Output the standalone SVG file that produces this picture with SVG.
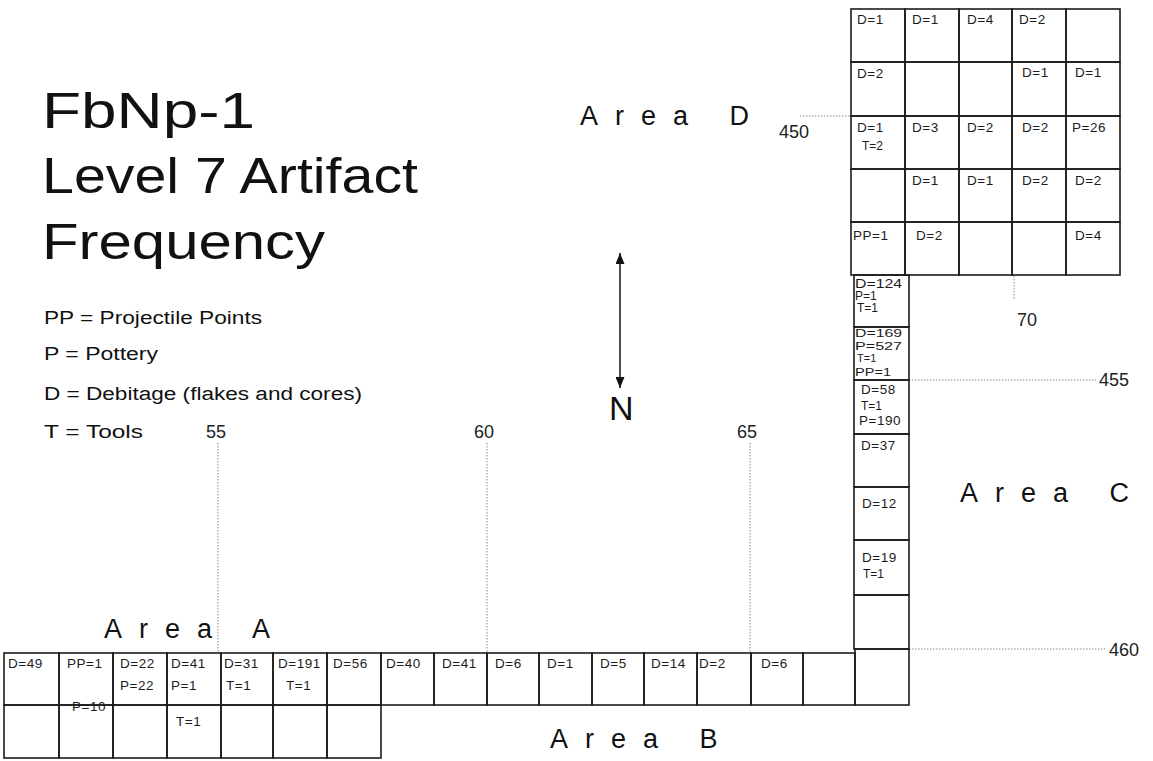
<svg xmlns="http://www.w3.org/2000/svg" width="1153" height="761" viewBox="0 0 1153 761">
<defs>
<style>
.c{fill:none;stroke:#1c1c1c;stroke-width:1.6}
.t{font-family:"Liberation Sans",Arial,sans-serif;font-size:13.5px;letter-spacing:0.5px;fill:#1c1c1c}
.k{font-family:"Liberation Sans",Arial,sans-serif;font-size:12px;fill:#1c1c1c}
.q{font-family:"Liberation Sans",Arial,sans-serif;font-size:11px;fill:#1c1c1c}
.dot{stroke:#8a8a8a;stroke-width:1;stroke-dasharray:1.5 1.5;fill:none}
.area{font-family:"Liberation Sans",Arial,sans-serif;font-size:27px;letter-spacing:17px;fill:#111}
.title{font-family:"Liberation Sans",Arial,sans-serif;font-size:50px;fill:#111}
.leg{font-family:"Liberation Sans",Arial,sans-serif;font-size:18px;fill:#111}
.num{font-family:"Liberation Sans",Arial,sans-serif;font-size:18px;fill:#222}
</style>
<marker id="ah" markerUnits="userSpaceOnUse" markerWidth="11" markerHeight="9" refX="11" refY="4.5" orient="auto-start-reverse" viewBox="0 0 11 9"><path d="M0,0 L11,4.5 L0,9 z" fill="#111"/></marker>
</defs>
<rect width="1153" height="761" fill="#fff"/>

<g id="title">
<text class="title" x="42" y="128" textLength="213" lengthAdjust="spacingAndGlyphs">FbNp-1</text>
<text class="title" x="42" y="193" textLength="376" lengthAdjust="spacingAndGlyphs">Level 7 Artifact</text>
<text class="title" x="42" y="259" textLength="283" lengthAdjust="spacingAndGlyphs">Frequency</text>
</g>

<g id="legend">
<text class="leg" x="44" y="324" textLength="218" lengthAdjust="spacingAndGlyphs">PP = Projectile Points</text>
<text class="leg" x="44" y="360" textLength="114" lengthAdjust="spacingAndGlyphs">P = Pottery</text>
<text class="leg" x="44" y="400" textLength="318" lengthAdjust="spacingAndGlyphs">D = Debitage (flakes and cores)</text>
<text class="leg" x="44" y="438" textLength="99" lengthAdjust="spacingAndGlyphs">T = Tools</text>
</g>

<g id="north">
<line x1="620" y1="253" x2="620" y2="388" stroke="#111" stroke-width="1.5" marker-start="url(#ah)" marker-end="url(#ah)"/>
<text x="609" y="420" font-family="Liberation Sans, Arial, sans-serif" font-size="34" fill="#111">N</text>
</g>

<g id="area-labels">
<text class="area" x="580" y="125">Area D</text>
<text class="area" x="104" y="638">Area A</text>
<text class="area" x="550" y="748">Area B</text>
<text class="area" x="960" y="502">Area C</text>
</g>

<g id="gridlines">
<line class="dot" x1="218" y1="443" x2="218" y2="652"/>
<line class="dot" x1="487" y1="443" x2="487" y2="652"/>
<line class="dot" x1="750" y1="443" x2="750" y2="652"/>
<line class="dot" x1="800" y1="116" x2="851" y2="116"/>
<line class="dot" x1="909" y1="380" x2="1096" y2="380"/>
<line class="dot" x1="909" y1="649" x2="1106" y2="649"/>
<line class="dot" x1="1014" y1="276" x2="1014" y2="300"/>
<text class="num" x="206" y="438">55</text>
<text class="num" x="474" y="438">60</text>
<text class="num" x="737" y="438">65</text>
<text class="num" x="779" y="138">450</text>
<text class="num" x="1017" y="326">70</text>
<text class="num" x="1099" y="386">455</text>
<text class="num" x="1109" y="656">460</text>
</g>

<g id="area-d">
<g id="d-r0"><rect class="c" x="851" y="9" width="54" height="53"/><rect class="c" x="905" y="9" width="54" height="53"/><rect class="c" x="959" y="9" width="53" height="53"/><rect class="c" x="1012" y="9" width="54" height="53"/><rect class="c" x="1066" y="9" width="54" height="53"/>
<text class="t" x="857" y="24">D=1</text><text class="t" x="912" y="24">D=1</text><text class="t" x="967" y="24">D=4</text><text class="t" x="1019" y="24">D=2</text></g>
<g id="d-r1"><rect class="c" x="851" y="62" width="54" height="54"/><rect class="c" x="905" y="62" width="54" height="54"/><rect class="c" x="959" y="62" width="53" height="54"/><rect class="c" x="1012" y="62" width="54" height="54"/><rect class="c" x="1066" y="62" width="54" height="54"/>
<text class="t" x="857" y="78">D=2</text><text class="t" x="1022" y="77">D=1</text><text class="t" x="1075" y="77">D=1</text></g>
<g id="d-r2"><rect class="c" x="851" y="116" width="54" height="53"/><rect class="c" x="905" y="116" width="54" height="53"/><rect class="c" x="959" y="116" width="53" height="53"/><rect class="c" x="1012" y="116" width="54" height="53"/><rect class="c" x="1066" y="116" width="54" height="53"/>
<text class="t" x="857" y="132">D=1</text><text class="k" x="862" y="150">T=2</text><text class="t" x="912" y="132">D=3</text><text class="t" x="967" y="132">D=2</text><text class="t" x="1022" y="132">D=2</text><text class="t" x="1072" y="132">P=26</text></g>
<g id="d-r3"><rect class="c" x="851" y="169" width="54" height="53"/><rect class="c" x="905" y="169" width="54" height="53"/><rect class="c" x="959" y="169" width="53" height="53"/><rect class="c" x="1012" y="169" width="54" height="53"/><rect class="c" x="1066" y="169" width="54" height="53"/>
<text class="t" x="912" y="185">D=1</text><text class="t" x="967" y="185">D=1</text><text class="t" x="1022" y="185">D=2</text><text class="t" x="1075" y="185">D=2</text></g>
<g id="d-r4"><rect class="c" x="851" y="222" width="54" height="53"/><rect class="c" x="905" y="222" width="54" height="53"/><rect class="c" x="959" y="222" width="53" height="53"/><rect class="c" x="1012" y="222" width="54" height="53"/><rect class="c" x="1066" y="222" width="54" height="53"/>
<text class="t" x="853" y="240">PP=1</text><text class="t" x="916" y="240">D=2</text><text class="t" x="1075" y="240">D=4</text></g>
</g>

<g id="area-c-column">
<g id="c1"><rect class="c" x="854" y="275" width="55" height="52"/><text class="k" x="855" y="288" textLength="47" lengthAdjust="spacingAndGlyphs">D=124</text><text class="k" x="855" y="300">P=1</text><text class="k" x="857" y="312">T=1</text></g>
<g id="c2"><rect class="c" x="854" y="327" width="55" height="53"/><text class="q" x="855" y="337" textLength="47" lengthAdjust="spacingAndGlyphs">D=169</text><text class="q" x="855" y="350" textLength="47" lengthAdjust="spacingAndGlyphs">P=527</text><text class="q" x="857" y="362">T=1</text><text class="q" x="855" y="376" textLength="36" lengthAdjust="spacingAndGlyphs">PP=1</text></g>
<g id="c3"><rect class="c" x="854" y="380" width="55" height="54"/><text class="t" x="861" y="394">D=58</text><text class="k" x="861" y="410">T=1</text><text class="t" x="859" y="425">P=190</text></g>
<g id="c4"><rect class="c" x="854" y="434" width="55" height="53"/><text class="t" x="861" y="450">D=37</text></g>
<g id="c5"><rect class="c" x="854" y="487" width="55" height="53"/><text class="t" x="862" y="508">D=12</text></g>
<g id="c6"><rect class="c" x="854" y="540" width="55" height="55"/><text class="t" x="862" y="562">D=19</text><text class="k" x="863" y="578">T=1</text></g>
<g id="c7"><rect class="c" x="854" y="595" width="55" height="54"/></g>
<g id="c8"><rect class="c" x="855" y="649" width="54" height="56"/></g>
</g>

<g id="bottom-row">
<g id="b0"><rect class="c" x="4" y="653" width="55" height="52"/><text class="t" x="8" y="668">D=49</text></g>
<g id="b1"><rect class="c" x="59" y="653" width="54" height="52"/><text class="t" x="67" y="668">PP=1</text><text class="t" x="72" y="711">P=10</text></g>
<g id="b2"><rect class="c" x="113" y="653" width="54" height="52"/><text class="t" x="120" y="668">D=22</text><text class="t" x="120" y="690">P=22</text></g>
<g id="b3"><rect class="c" x="167" y="653" width="54" height="52"/><text class="t" x="171" y="668">D=41</text><text class="t" x="171" y="690">P=1</text></g>
<g id="b4"><rect class="c" x="221" y="653" width="52" height="52"/><text class="t" x="224" y="668">D=31</text><text class="t" x="226" y="690">T=1</text></g>
<g id="b5"><rect class="c" x="273" y="653" width="54" height="52"/><text class="t" x="278" y="668">D=191</text><text class="t" x="286" y="690">T=1</text></g>
<g id="b6"><rect class="c" x="327" y="653" width="54" height="52"/><text class="t" x="333" y="668">D=56</text></g>
<g id="b7"><rect class="c" x="381" y="653" width="53" height="52"/><text class="t" x="386" y="668">D=40</text></g>
<g id="b8"><rect class="c" x="434" y="653" width="53" height="52"/><text class="t" x="442" y="668">D=41</text></g>
<g id="b9"><rect class="c" x="487" y="653" width="52" height="52"/><text class="t" x="495" y="668">D=6</text></g>
<g id="b10"><rect class="c" x="539" y="653" width="53" height="52"/><text class="t" x="547" y="668">D=1</text></g>
<g id="b11"><rect class="c" x="592" y="653" width="52" height="52"/><text class="t" x="600" y="668">D=5</text></g>
<g id="b12"><rect class="c" x="644" y="653" width="53" height="52"/><text class="t" x="651" y="668">D=14</text></g>
<g id="b13"><rect class="c" x="697" y="653" width="54" height="52"/><text class="t" x="699" y="668">D=2</text></g>
<g id="b14"><rect class="c" x="751" y="653" width="52" height="52"/><text class="t" x="761" y="668">D=6</text></g>
<g id="b15"><rect class="c" x="803" y="653" width="52" height="52"/></g>
<g id="r2-0"><rect class="c" x="4" y="705" width="55" height="53"/></g>
<g id="r2-1"><rect class="c" x="59" y="705" width="54" height="53"/></g>
<g id="r2-2"><rect class="c" x="113" y="705" width="54" height="53"/></g>
<g id="r2-3"><rect class="c" x="167" y="705" width="54" height="53"/><text class="t" x="176" y="726">T=1</text></g>
<g id="r2-4"><rect class="c" x="221" y="705" width="52" height="53"/></g>
<g id="r2-5"><rect class="c" x="273" y="705" width="54" height="53"/></g>
<g id="r2-6"><rect class="c" x="327" y="705" width="54" height="53"/></g>
</g>
</svg>
